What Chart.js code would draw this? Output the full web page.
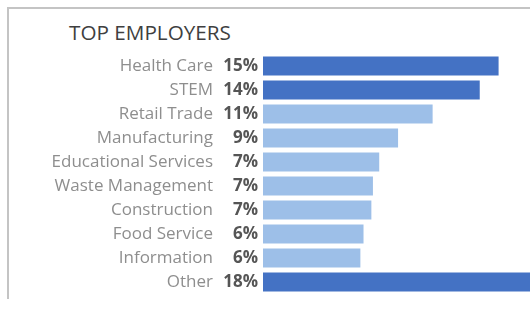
<!DOCTYPE html>
<html>
<head>
<meta charset="utf-8">
<script src="https://cdn.jsdelivr.net/npm/chart.js@4.4.1/dist/chart.umd.min.js"></script>
<style>
  html, body { margin: 0; padding: 0; background: #fff; }
  #wrap { position: relative; width: 530px; height: 310px; overflow: hidden; }
  #frame { position: absolute; left: 7px; top: 7px; width: 540px; height: 290px;
           border-left: 2px solid #c4c4c4; border-top: 2px solid #c4c4c4; }
  #title { position: absolute; left: 69px; top: 18px; margin: 0;
           font: 400 20.7px "Open Sans", sans-serif; color: #3f3f3f; letter-spacing: 0; }
  canvas { position: absolute; left: 0; top: 0; }
</style>
</head>
<body>
<div id="wrap">
  <div id="frame"></div>
  <div id="title">TOP EMPLOYERS</div>
  <canvas id="c" width="530" height="310"></canvas>
</div>
<script>
const categories = ["Health Care", "STEM", "Retail Trade", "Manufacturing", "Educational Services",
                    "Waste Management", "Construction", "Food Service", "Information", "Other"];
const shares = [15.0, 13.8, 10.8, 8.6, 7.4, 7.0, 6.9, 6.4, 6.2, 18.0];
const highlighted = [true, true, false, false, false, false, false, false, false, true];
const percentLabels = shares.map(v => Math.round(v) + "%");

const DARK = "#4472c4";
const LIGHT = "#9dbfe8";

new Chart(document.getElementById("c"), {
  type: "bar",
  data: {
    labels: categories,
    datasets: [{
      data: shares,
      backgroundColor: highlighted.map(h => h ? DARK : LIGHT),
      borderWidth: 0,
      barPercentage: 0.79,
      categoryPercentage: 1.0
    }]
  },
  options: {
    indexAxis: "y",
    responsive: false,
    animation: false,
    layout: { padding: { top: 54, bottom: 16, left: 0, right: 0 } },
    plugins: { legend: { display: false }, tooltip: { enabled: false }, title: { display: false } },
    scales: {
      x: { display: false, min: 0, max: 17 },
      y: {
        position: "left",
        weight: 2,
        offset: true,
        grid: { display: false, drawTicks: false },
        border: { display: false },
        ticks: { padding: 3, color: "#8e8e8e", font: { family: "Open Sans", size: 17, weight: "normal" } },
        afterFit: s => { s.width = 216; }
      },
      pct: {
        type: "category",
        labels: percentLabels,
        position: "left",
        weight: 1,
        offset: true,
        grid: { display: false, drawTicks: false },
        border: { display: false },
        ticks: { padding: 5, color: "#555555", font: { family: "Open Sans", size: 17, weight: "bold" } },
        afterFit: s => { s.width = 47; }
      }
    }
  }
});
</script>
</body>
</html>
